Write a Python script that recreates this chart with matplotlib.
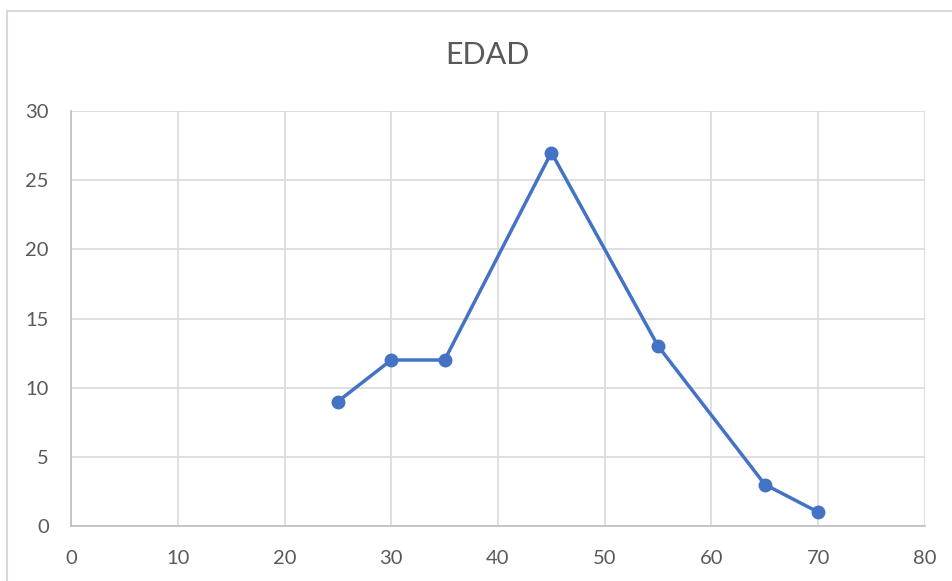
import matplotlib.pyplot as plt
from matplotlib.patches import Rectangle

edad = [25, 30, 35, 45, 55, 65, 70]
frecuencia = [9, 12, 12, 27, 13, 3, 1]
x_ticks = [0, 10, 20, 30, 40, 50, 60, 70, 80]
y_ticks = [0, 5, 10, 15, 20, 25, 30]

plt.rcParams['font.family'] = ['Lato', 'DejaVu Sans']

fig = plt.figure(figsize=(9.53, 5.81), dpi=100)

# chart border (runs off right and bottom edge)
fig.patches.append(Rectangle((7 / 953, -0.05), 1.0, 1 - 11 / 581 + 0.05,
                             transform=fig.transFigure, fill=False,
                             edgecolor='#D9D9D9', linewidth=1.5))

ax = fig.add_axes([71 / 953, 1 - 526 / 581, (925 - 71) / 953, (526 - 111) / 581])

ax.plot(edad, frecuencia, color='#4472C4', linewidth=2.5, marker='o',
        markersize=9, zorder=3)

ax.set_xlim(0, 80)
ax.set_ylim(0, 30)
ax.set_xticks(x_ticks)
ax.set_yticks(y_ticks)
ax.grid(True, color='#D9D9D9', linewidth=1.2)
ax.set_axisbelow(True)

for side in ['top', 'right']:
    ax.spines[side].set_visible(False)
for side in ['left', 'bottom']:
    ax.spines[side].set_color('#BFBFBF')
    ax.spines[side].set_linewidth(1.2)

ax.tick_params(length=0, labelsize=14.5, colors='#595959')
ax.tick_params(axis='x', pad=17)
ax.tick_params(axis='y', pad=16)

fig.text(487 / 953, 1 - 55 / 581, 'EDAD', ha='center', va='center',
         fontsize=22, color='#595959')

fig.savefig('out.png', dpi=100)
